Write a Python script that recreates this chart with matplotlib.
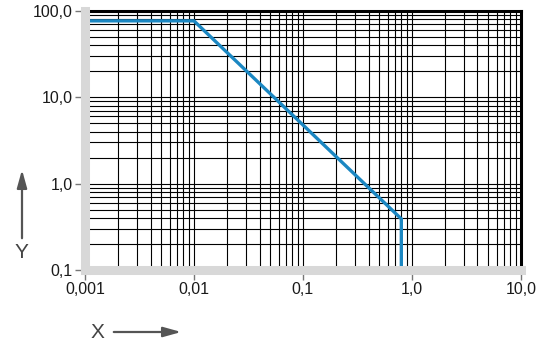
"""Log-log characteristic curve with dense grid."""

import matplotlib

matplotlib.use("Agg")
import matplotlib.pyplot as plt
from matplotlib.patches import FancyArrowPatch
from matplotlib.ticker import FixedLocator, LogLocator, NullFormatter

# Data
curve_x = [0.001, 0.01, 0.8, 0.8]
curve_y = [77.0, 77.0, 0.39, 0.1]

x_ticks = [0.001, 0.01, 0.1, 1.0, 10.0]
x_labels = ["0,001", "0,01", "0,1", "1,0", "10,0"]
y_ticks = [0.1, 1.0, 10.0, 100.0]
y_labels = ["0,1", "1,0", "10,0", "100,0"]

BLUE = "#1b87c2"
GREY_FRAME = "#d8d8d8"
TEXT = "#1a1a1a"
ARROW = "#555555"

plt.rcParams["font.family"] = ["Liberation Sans", "DejaVu Sans"]

fig = plt.figure(figsize=(5.5, 3.46), dpi=100)
ax = fig.add_axes([0.1545, 0.22, 0.7925, 0.748])

ax.set_xscale("log")
ax.set_yscale("log")
ax.set_xlim(x_ticks[0], x_ticks[-1])
ax.set_ylim(y_ticks[0], y_ticks[-1])

ax.plot(curve_x, curve_y, color=BLUE, linewidth=2.4, solid_joinstyle="miter", zorder=2)

# grid: every decade and every sub-decade value
ax.set_axisbelow(True)
ax.xaxis.set_major_locator(FixedLocator(x_ticks))
ax.yaxis.set_major_locator(FixedLocator(y_ticks))
ax.xaxis.set_minor_locator(LogLocator(base=10, subs=range(2, 10), numticks=20))
ax.yaxis.set_minor_locator(LogLocator(base=10, subs=range(2, 10), numticks=20))
ax.xaxis.set_minor_formatter(NullFormatter())
ax.yaxis.set_minor_formatter(NullFormatter())
ax.grid(which="both", color="black", linewidth=0.8)

ax.set_xticklabels(x_labels, fontsize=11.5, color=TEXT)
ax.set_yticklabels(y_labels, fontsize=11.5, color=TEXT)
ax.tick_params(which="major", length=7, width=1, color="#777777", pad=2)
ax.tick_params(which="minor", length=0)

# frame: thick light grey left/bottom, black top/right
for side in ("left", "bottom"):
    ax.spines[side].set_color(GREY_FRAME)
    ax.spines[side].set_linewidth(6.5)
    ax.spines[side].set_zorder(3)
for side in ("top", "right"):
    ax.spines[side].set_color("black")
    ax.spines[side].set_linewidth(2.2)

# axis names with arrows
fig.text(21 / 550, 1 - 253 / 346, "Y", fontsize=15, color="#444444",
         ha="center", va="center")
fig.patches.append(FancyArrowPatch(
    (22 / 550, 1 - 241 / 346), (22 / 550, 1 - 167 / 346),
    transform=fig.transFigure, arrowstyle="-|>,head_length=0.9,head_width=0.25",
    mutation_scale=12, color=ARROW, linewidth=1.6))
fig.text(97 / 550, 1 - 333 / 346, "X", fontsize=15, color="#444444",
         ha="center", va="center")
fig.patches.append(FancyArrowPatch(
    (111 / 550, 1 - 332 / 346), (184 / 550, 1 - 332 / 346),
    transform=fig.transFigure, arrowstyle="-|>,head_length=0.9,head_width=0.25",
    mutation_scale=12, color=ARROW, linewidth=1.6))

fig.savefig("out.png", dpi=100)
